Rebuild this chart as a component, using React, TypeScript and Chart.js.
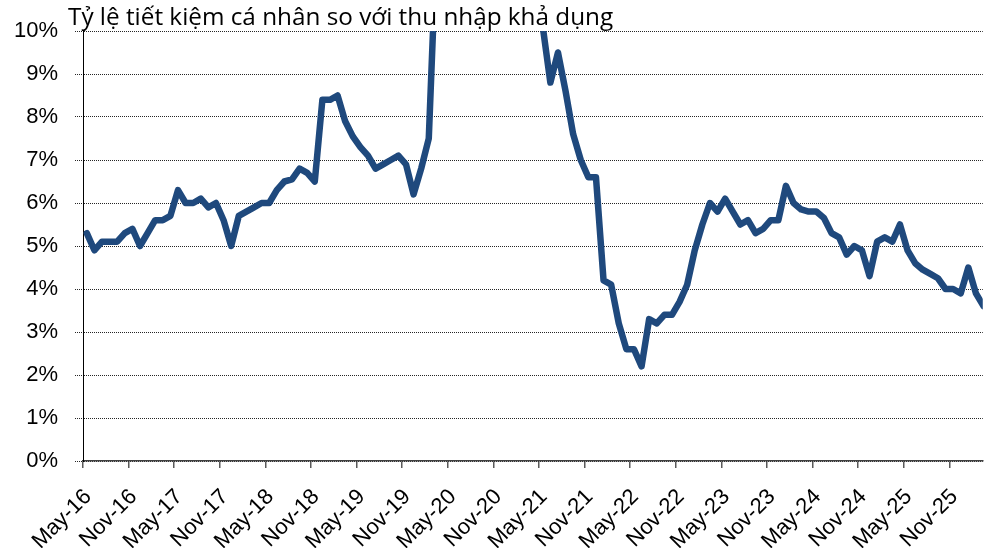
import React, { useEffect, useRef } from "react";
import { Chart, registerables } from "chart.js";

Chart.register(...registerables);

// Tick labels (every 6 months, first month = May-16)
const tickLabels = [
  "May-16", "Nov-16", "May-17", "Nov-17", "May-18", "Nov-18", "May-19", "Nov-19",
  "May-20", "Nov-20", "May-21", "Nov-21", "May-22", "Nov-22", "May-23", "Nov-23",
  "May-24", "Nov-24", "May-25", "Nov-25",
];

// Monthly personal saving rate (% of disposable income), May-16 .. Mar-26
const savingRate2016 = [5.3, 4.9, 5.1, 5.1, 5.1, 5.3, 5.4, 5.0]; // May-Dec 16
const savingRate2017 = [5.3, 5.6, 5.6, 5.7, 6.3, 6.0, 6.0, 6.1, 5.9, 6.0, 5.6, 5.0];
const savingRate2018 = [5.7, 5.8, 5.9, 6.0, 6.0, 6.3, 6.5, 6.55, 6.8, 6.7, 6.5, 8.4];
const savingRate2019 = [8.4, 8.5, 7.9, 7.55, 7.3, 7.1, 6.8, 6.9, 7.0, 7.1, 6.9, 6.2];
const savingRate2020 = [6.8, 7.5, 12.0, 32.0, 24.3, 19.1, 18.5, 14.6, 14.1, 13.1, 12.9, 13.4];
const savingRate2021 = [19.9, 13.6, 26.3, 12.7, 10.1, 8.8, 9.5, 8.6, 7.6, 7.0, 6.6, 6.6];
const savingRate2022 = [4.2, 4.1, 3.2, 2.6, 2.6, 2.2, 3.3, 3.2, 3.4, 3.4, 3.7, 4.1];
const savingRate2023 = [4.9, 5.5, 6.0, 5.8, 6.1, 5.8, 5.5, 5.6, 5.3, 5.4, 5.6, 5.6];
const savingRate2024 = [6.4, 6.0, 5.85, 5.8, 5.8, 5.65, 5.3, 5.2, 4.8, 5.0, 4.9, 4.3];
const savingRate2025 = [5.1, 5.2, 5.1, 5.5, 4.9, 4.6, 4.45, 4.35, 4.25, 4.0, 4.0, 3.9];
const savingRate2026 = [4.5, 3.9, 3.6]; // Jan-Mar 26

const savingRate = [
  ...savingRate2016, ...savingRate2017, ...savingRate2018, ...savingRate2019,
  ...savingRate2020, ...savingRate2021, ...savingRate2022, ...savingRate2023,
  ...savingRate2024, ...savingRate2025, ...savingRate2026,
];

const titleText = "Tỷ lệ tiết kiệm cá nhân so với thu nhập khả dụng";

export default function App() {
  const ref = useRef<HTMLCanvasElement>(null);

  useEffect(() => {
    const canvas = ref.current;
    if (!canvas) return;
    const font = { family: "'Liberation Sans', Arial, sans-serif", size: 22 };
    const chart = new Chart(canvas, {
      type: "line",
      data: {
        datasets: [
          {
            data: savingRate.map((v, i) => ({ x: i + 0.5, y: v })),
            borderColor: "#1F497D",
            borderWidth: 6.5,
            pointRadius: 0,
            tension: 0,
            clip: 0,
            borderJoinStyle: "round",
            borderCapStyle: "round",
          },
        ],
      },
      options: {
        animation: false,
        responsive: false,
        maintainAspectRatio: false,
        layout: { padding: { top: 31, left: 0, right: 0, bottom: 0 } },
        plugins: { legend: { display: false }, tooltip: { enabled: false } },
        scales: {
          x: {
            type: "linear",
            min: 0,
            max: 118.4,
            afterBuildTicks: (s: any) => {
              s.ticks = tickLabels.map((_, k) => ({ value: k * 6 }));
            },
            afterFit: (s: any) => {
              s.height = 87;
            },
            ticks: {
              autoSkip: false,
              maxRotation: 45,
              minRotation: 45,
              padding: 16,
              labelOffset: 5,
              color: "#000",
              font,
              callback: (v: any) => tickLabels[Math.round(Number(v) / 6)],
            },
            grid: {
              drawOnChartArea: false,
              drawTicks: true,
              tickLength: 7,
              color: "#595959",
              lineWidth: 1.5,
            },
            border: { display: true, color: "#404040", width: 1.5 },
          },
          y: {
            min: 0,
            max: 10,
            afterFit: (s: any) => {
              s.width = 83;
            },
            ticks: {
              stepSize: 1,
              padding: 17,
              color: "#000",
              font,
              callback: (v: any) => v + "%",
            },
            grid: {
              color: "#262626",
              lineWidth: 1,
              tickLength: 8,
              tickBorderDash: [1, 1],
            },
            border: { display: true, color: "#000", width: 1, dash: [1, 1] },
          },
        },
      },
    });
    return () => chart.destroy();
  }, []);

  return (
    <div style={{ position: "absolute", left: 0, top: 0, width: 984, height: 548, background: "#fff", overflow: "hidden" }}>
      <canvas ref={ref} width={984} height={548} style={{ position: "absolute", left: 0, top: 0 }} />
      <div
        style={{
          position: "absolute",
          left: 68,
          top: 1,
          fontFamily: "'Open Sans', sans-serif",
          fontSize: 24.3,
          lineHeight: "30px",
          color: "#000",
          whiteSpace: "nowrap",
        }}
      >
        {titleText}
      </div>
    </div>
  );
}
